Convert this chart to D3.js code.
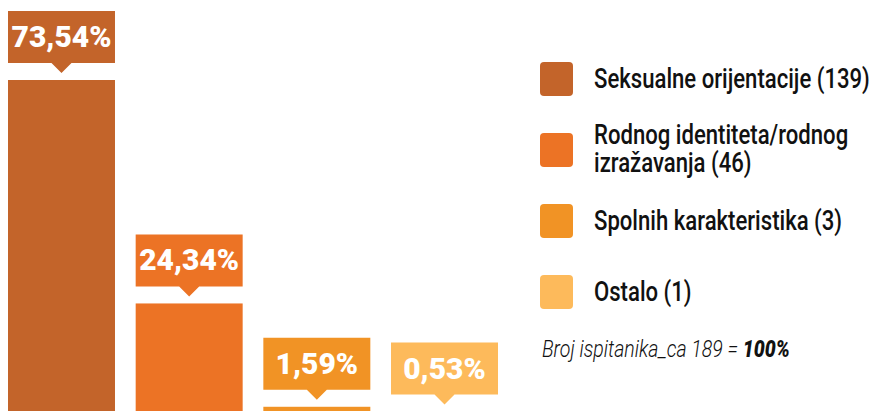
<html>
<head>
    <title>Diskriminacija</title>
    <style type="text/css">
        body{ margin: 0; background-color: #fff; }
        svg{ display: block; }
        .valueLabel{
            fill: #fff;
            font-family: Roboto, "Liberation Sans", sans-serif;
            font-weight: 900;
            font-size: 30px;
        }
        .legendText{
            fill: #111;
            font-family: Roboto, "Liberation Sans", sans-serif;
            font-weight: 500;
            font-size: 27px;
        }
        .note{
            fill: #111;
            font-family: Roboto, "Liberation Sans", sans-serif;
            font-style: italic;
            font-weight: 300;
            font-size: 23px;
        }
    </style>
    <script type="text/javascript" src="https://cdn.jsdelivr.net/npm/d3@7/dist/d3.min.js"></script>
</head>
<body>
    <div id="chart"></div>

    <script type="text/javascript">
        var categories = ['Seksualne orijentacije', 'Rodnog identiteta/rodnog izražavanja', 'Spolnih karakteristika', 'Ostalo'];
        var counts = [139, 46, 3, 1];
        var percents = [73.54, 24.34, 1.59, 0.53];
        var valueLabels = ['73,54%', '24,34%', '1,59%', '0,53%'];
        var legendLines = [
            ['Seksualne orijentacije (139)'],
            ['Rodnog identiteta/rodnog', 'izražavanja (46)'],
            ['Spolnih karakteristika (3)'],
            ['Ostalo (1)']
        ];
        var colors = ['#C3642A', '#EC7325', '#F19325', '#FDBA5B'];

        var width = 873, height = 411;
        var baseline = 414, boxH = 52, gap = 17, tip = 10;

        var data = categories.map(function(c, i){
            return {cat: c, count: counts[i], pct: percents[i], label: valueLabels[i], color: colors[i], lines: legendLines[i]};
        });

        var svg = d3.select('#chart')
            .append('svg')
            .attr('width', width)
            .attr('height', height);

        var xScale = d3.scaleBand()
            .domain(categories)
            .range([8, 498])
            .paddingInner(0.162)
            .paddingOuter(0);

        var yScale = d3.scaleLinear()
            .domain([0, d3.max(percents)])
            .range([baseline, 80]);

        var bw = xScale.bandwidth();

        // bars
        svg.selectAll('.bar')
            .data(data)
            .enter()
            .append('rect')
            .attr('class', 'bar')
            .attr('x', function(d){ return xScale(d.cat); })
            .attr('y', function(d){ return yScale(d.pct); })
            .attr('width', bw)
            .attr('height', function(d){ return baseline - yScale(d.pct) + 10; })
            .attr('fill', function(d){ return d.color; });

        // callout boxes
        var callouts = svg.selectAll('.callout')
            .data(data)
            .enter()
            .append('g')
            .attr('class', 'callout')
            .attr('transform', function(d){
                return 'translate(' + xScale(d.cat) + ',' + (yScale(d.pct) - gap - boxH) + ')';
            });

        callouts.append('path')
            .attr('fill', function(d){ return d.color; })
            .attr('d', function(){
                var c = bw / 2;
                return 'M0,0H' + bw + 'V' + boxH + 'H' + (c + tip) + 'L' + c + ',' + (boxH + tip) +
                    'L' + (c - tip) + ',' + boxH + 'H0Z';
            });

        callouts.append('text')
            .attr('class', 'valueLabel')
            .attr('x', bw / 2)
            .attr('y', 36)
            .attr('text-anchor', 'middle')
            .text(function(d){ return d.label; });

        // legend
        var legendY = [79, 150, 221, 292];
        var legend = svg.selectAll('.legendItem')
            .data(data)
            .enter()
            .append('g')
            .attr('class', 'legendItem')
            .attr('transform', function(d, i){ return 'translate(540,' + legendY[i] + ')'; });

        legend.append('rect')
            .attr('x', 0)
            .attr('y', -17)
            .attr('width', 33)
            .attr('height', 34)
            .attr('rx', 4)
            .attr('fill', function(d){ return d.color; });

        var legendText = legend.append('text')
            .attr('class', 'legendText')
            .attr('y', function(d){ return d.lines.length > 1 ? -6 : 9; });

        legendText.selectAll('tspan')
            .data(function(d){ return d.lines; })
            .enter()
            .append('tspan')
            .attr('x', 0)
            .attr('dy', function(d, i){ return i === 0 ? 0 : 28; })
            .text(function(d){ return d; });

        // no condensed font installed, so squeeze the text horizontally
        var firstLen = legendText.node().getComputedTextLength();
        var squeeze = 276 / firstLen;
        legendText.attr('transform', 'translate(54,0) scale(' + squeeze + ',1)');

        var note = svg.append('text')
            .attr('class', 'note');
        note.append('tspan').text('Broj ispitanika_ca 189 = ');
        note.append('tspan').attr('font-weight', 900).text('100%');
        var noteSqueeze = 248 / note.node().getComputedTextLength();
        note.attr('transform', 'translate(542,357) scale(' + noteSqueeze + ',1)');
    </script>
</body>
</html>
